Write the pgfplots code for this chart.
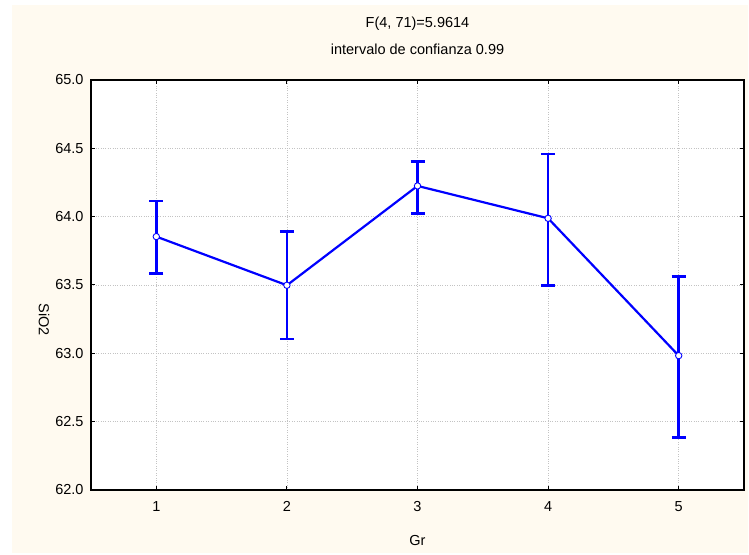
\documentclass[border=0pt]{standalone}
\usepackage{pgfplots}
\pgfplotsset{compat=1.18}
\usepackage{fontspec}
\setmainfont{Liberation Sans}
\definecolor{cream}{RGB}{255,250,240}
\definecolor{gridgray}{RGB}{195,195,195}
\pgfplotstableread{
x y ep em
1 63.854 0.261 0.271
2 63.498 0.395 0.393
3 64.225 0.180 0.203
4 63.988 0.471 0.493
5 62.983 0.581 0.597
}\means
\begin{document}
\begin{tikzpicture}[x=1bp,y=1bp]
\fill[white] (0,0) rectangle (749,555);
\fill[cream] (12,2) rectangle (748,550);
\begin{axis}[
  at={(91bp,65bp)}, anchor=south west,
  scale only axis, width=653bp, height=410bp,
  xmin=0.5, xmax=5.5, ymin=62, ymax=65,
  xtick={1,2,3,4,5},
  ytick={62,62.5,63,63.5,64,64.5,65},
  font=\fontsize{14.5bp}{17bp}\selectfont,
  /pgf/number format/assume math mode=true,
  yticklabel style={/pgf/number format/.cd, fixed, fixed zerofill, precision=1, /tikz/.cd, xshift=-4bp},
  xticklabel style={yshift=-8bp},
  axis background/.style={fill=white},
  axis line style={line width=1.8bp},
  tick align=inside, major tick length=4bp,
  tick style={black, line width=1bp},
  grid=major,
  grid style={dotted, gridgray, line width=0.8bp},
  title={F(4, 71)=5.9614\\intervalo de confianza 0.99},
  title style={align=center, at={(axis description cs:0.5,1.0939)}, anchor=center, font=\fontsize{14.5bp}{27bp}\selectfont},
  xlabel={Gr},
  xlabel style={at={(axis description cs:0.5,-0.122)}, anchor=center},
  ylabel={SiO2},
  ylabel style={at={(axis description cs:-0.072,0.415)}, anchor=center, rotate=180},
]
\addplot[blue, line width=2.2bp, mark=*, mark size=3.2bp,
  mark options={fill=white, line width=0.9bp},
  error bars/.cd, y dir=both, y explicit,
  error bar style={line width=2.6bp, blue},
  error mark options={rotate=90, blue, line width=2.6bp, mark size=7bp}]
  table[x=x, y=y, y error plus=ep, y error minus=em] {\means};
\end{axis}
\end{tikzpicture}
\end{document}
